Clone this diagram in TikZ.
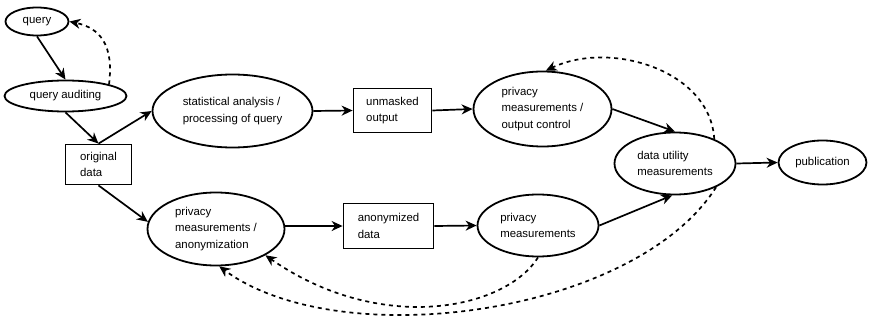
\documentclass[tikz,border=0pt]{standalone}
\usepackage{fontspec}
\setmainfont{Liberation Sans}
\usetikzlibrary{shapes.geometric,arrows.meta}

\tikzset{
  shp/.style={draw, line width=1.8pt, inner sep=0pt, align=left,
              font=\fontsize{11.4}{16.5}\selectfont},
  oval/.style={shp, ellipse},
  box/.style={shp, rectangle},
  arr/.style={line width=1.7pt, -{Stealth[length=11pt,width=10pt,inset=3.5pt]}},
  fb/.style={arr, dash pattern=on 4pt off 4pt},
}

\begin{document}
\begin{tikzpicture}[x=1pt, y=-1pt]
  \useasboundingbox (0,0) rectangle (869,323);

  % query side
  \node[oval, minimum width=63pt, minimum height=28pt] (query) at (37,21.5) {query};
  \node[oval, minimum width=122pt, minimum height=31pt] (audit) at (65.5,96) {query auditing};
  \node[box, minimum width=66pt, minimum height=40pt] (orig) at (98.5,164.5) {original\\data};

  % upper branch
  \node[oval, minimum width=160pt, minimum height=73pt] (stat) at (232.5,111) {statistical analysis /\\processing of query};
  \node[box, minimum width=78pt, minimum height=44pt] (unmask) at (392.5,110.5) {unmasked\\output};
  \node[oval, minimum width=138pt, minimum height=75pt] (pout) at (542.5,109) {privacy\\measurements /\\output control};

  % lower branch
  \node[oval, minimum width=137pt, minimum height=73pt] (anon) at (216,229) {privacy\\measurements /\\anonymization};
  \node[box, minimum width=90pt, minimum height=45pt] (anondata) at (388.5,226) {anonymized\\data};
  \node[oval, minimum width=121pt, minimum height=62pt] (pm) at (538,225.5) {privacy\\measurements};

  % merge and output
  \node[oval, minimum width=121pt, minimum height=62pt] (util) at (675,163.5) {data utility\\measurements};
  \node[oval, minimum width=88pt, minimum height=44pt] (pub) at (822.5,162.5) {publication};

  % main flow
  \draw[arr] (query.south) -- (audit.north);
  \draw[arr] (audit.south) -- (orig.north);
  \draw[arr] (orig.north) -- (stat.west);
  \draw[arr] (orig.south) -- (anon.174);
  \draw[arr] (stat.east) -- (unmask.west);
  \draw[arr] (unmask.east) -- (pout.west);
  \draw[arr] (pout.east) -- (util.north);
  \draw[arr] (anondata.west -| anon.east) -- (anondata.west);
  \draw[arr] (anondata.east) -- (pm.west);
  \draw[arr] (pm.east) -- (util.265);
  \draw[arr] (util.east) -- (pub.west);

  % feedback loops
  \draw[fb] (audit.15) .. controls (114,45) and (100,28) .. (query.east);
  \draw[fb] (util.32) .. controls (710,70) and (610,40) .. (pout.85);
  \draw[fb] (pm.south) .. controls (505,310) and (380,335) .. (anon.-28);
  \draw[fb] (util.-30) .. controls (635,315) and (340,355) .. (anon.-85);
\end{tikzpicture}
\end{document}
